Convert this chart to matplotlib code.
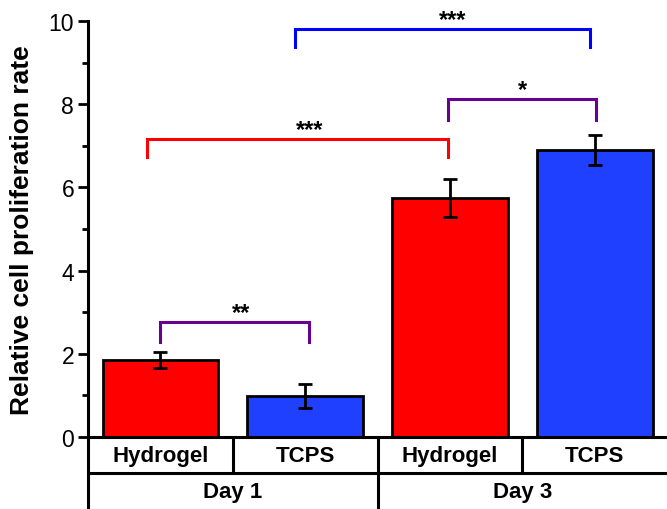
import matplotlib.pyplot as plt
from matplotlib.ticker import MultipleLocator

plt.rcParams['font.family'] = ['Liberation Sans', 'DejaVu Sans']

# group / day labels
groups = ['Hydrogel', 'TCPS', 'Hydrogel', 'TCPS']
days = ['Day 1', 'Day 3']

# mean relative proliferation and error (SD)
means = [1.85, 0.99, 5.75, 6.90]
errors = [0.20, 0.29, 0.46, 0.36]
bar_colors = ['#ff0000', '#2040ff', '#ff0000', '#2040ff']

# significance brackets: (left x, right x, top y, leg bottom y, label, label x, color)
brackets = [
    (0.00, 1.03, 2.76, 2.29, '**', 0.56, '#6a0090'),
    (-0.09, 1.99, 7.16, 6.72, '***', 1.03, '#ff0000'),
    (1.99, 3.01, 8.12, 7.62, '*', 2.50, '#6a0090'),
    (0.93, 2.97, 9.80, 9.38, '***', 2.02, '#0000ff'),
]

fig = plt.figure(figsize=(6.67, 5.10), dpi=100)
ax = fig.add_axes([0.132, 0.141, 0.868, 0.816])

x = range(len(groups))
ax.bar(x, means, width=0.8, color=bar_colors, edgecolor='black', linewidth=2, zorder=2)
ax.errorbar(x, means, yerr=errors, fmt='none', ecolor='black', elinewidth=2,
            capsize=5, capthick=2, zorder=3)

for x0, x1, top, leg, label, lx, c in brackets:
    ax.plot([x0, x0, x1, x1], [leg, top, top, leg], color=c, lw=2.2,
            solid_joinstyle='miter', clip_on=False, zorder=4)
    ax.text(lx, top - 0.05, label, ha='center', va='bottom',
            fontsize=17, fontweight='bold', clip_on=False)

ax.set_xlim(-0.5, 3.5)
ax.set_ylim(0, 10)
ax.yaxis.set_major_locator(MultipleLocator(2))
ax.yaxis.set_minor_locator(MultipleLocator(1))
ax.tick_params(axis='y', which='major', length=7, width=2, labelsize=16.5, pad=3)
ax.tick_params(axis='y', which='minor', length=4, width=2)
ax.set_xticks([])
for side in ['top', 'right']:
    ax.spines[side].set_visible(False)
ax.spines['left'].set_linewidth(2.2)
ax.spines['bottom'].set_linewidth(2.2)
ax.spines['left'].set_bounds(0, 10)

ax.set_ylabel('Relative cell proliferation rate', fontsize=19, fontweight='bold')
ax.yaxis.set_label_coords(-0.093, 0.5)

# two-row category table beneath the axis
tr = ax.get_xaxis_transform()
row1, row2 = -0.0865, -0.173
line_kw = dict(color='black', lw=2.2, clip_on=False, transform=tr,
               solid_capstyle='butt')
ax.plot([-0.5, 3.5], [row1, row1], **line_kw)
ax.plot([-0.5, -0.5], [0, row2], **line_kw)
for xv in (0.5, 2.5):
    ax.plot([xv, xv], [0, row1], **line_kw)
ax.plot([1.5, 1.5], [0, row2], **line_kw)

for i, g in enumerate(groups):
    ax.text(i, row1 / 2, g, transform=tr, ha='center', va='center',
            fontsize=16, fontweight='bold')
for j, d in enumerate(days):
    ax.text(0.5 + 2 * j, (row1 + row2) / 2, d, transform=tr, ha='center',
            va='center', fontsize=16, fontweight='bold')

fig.savefig('out.png', dpi=100)
